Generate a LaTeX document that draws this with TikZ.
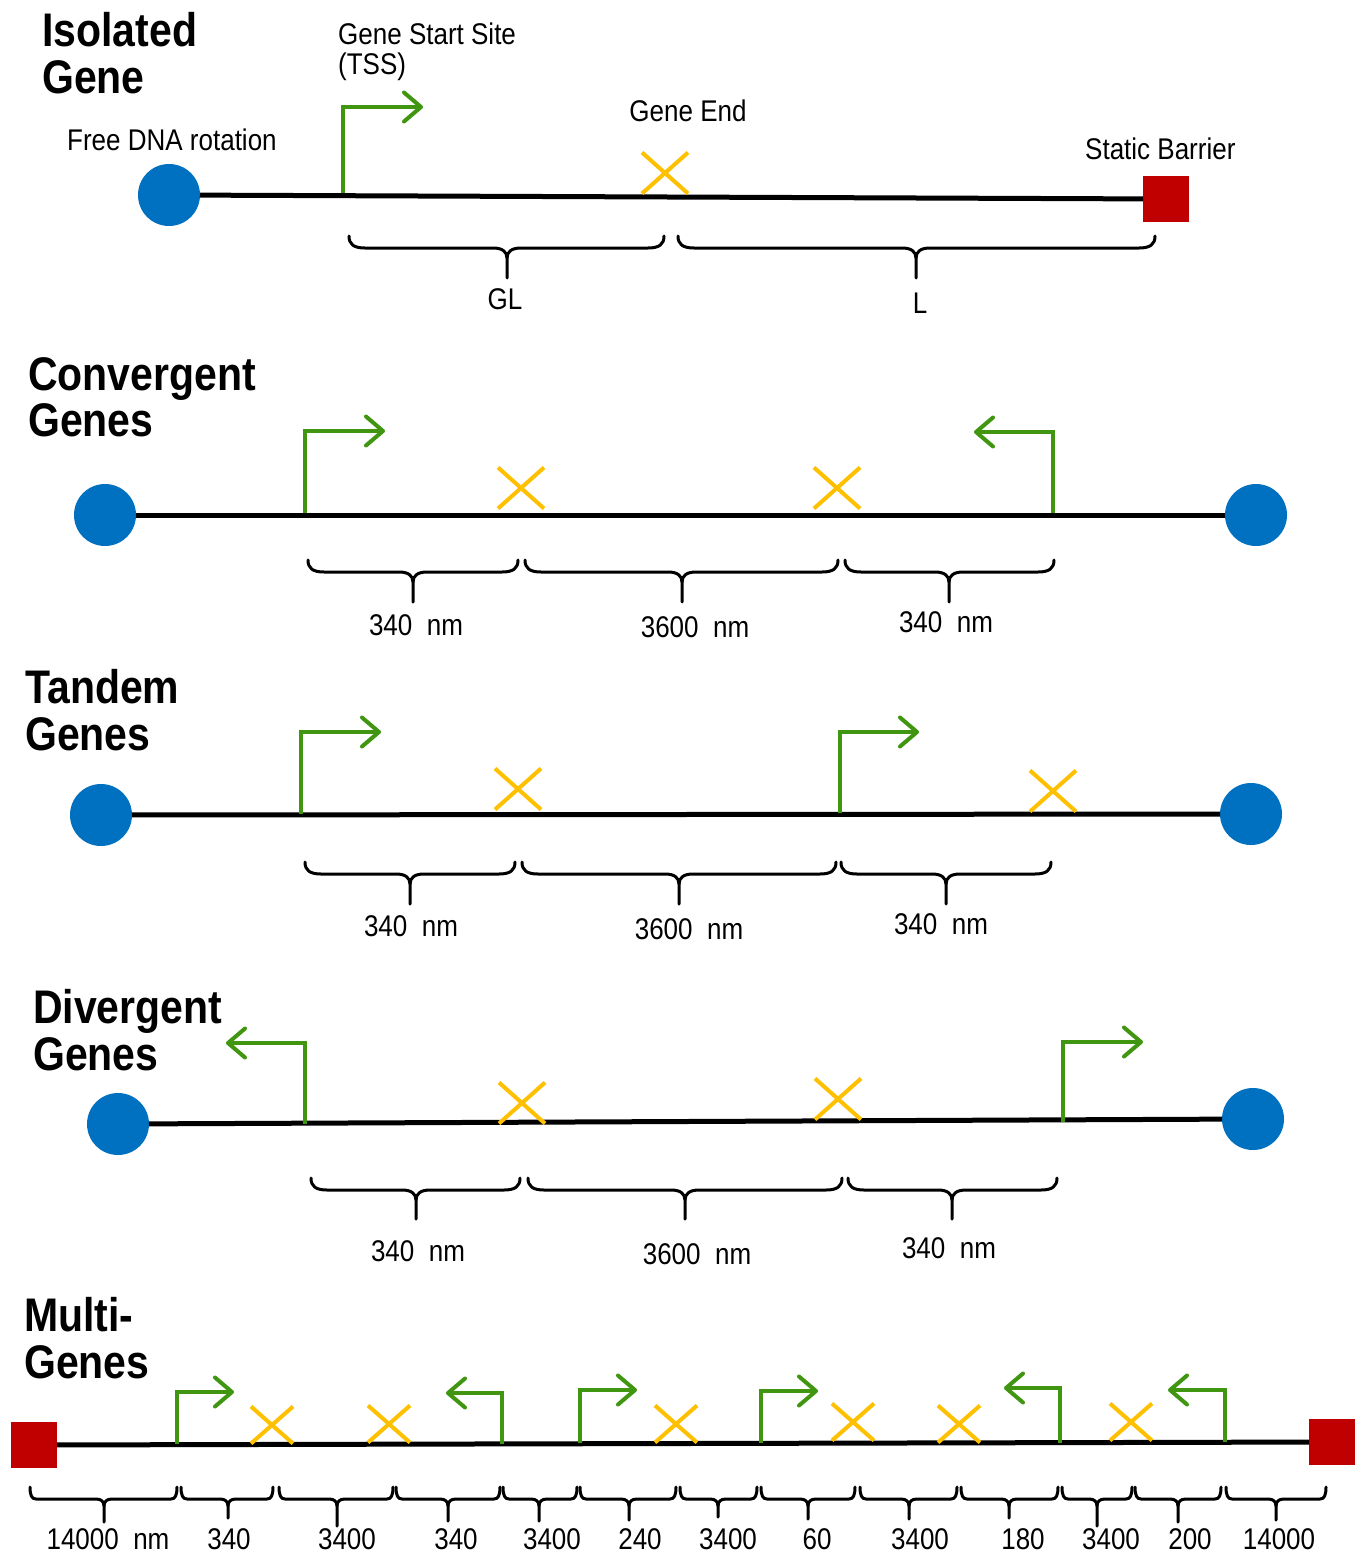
\documentclass[tikz,border=0pt]{standalone}
\usepackage{fontspec}
\setmainfont{Liberation Sans}
\usetikzlibrary{arrows.meta,shapes.misc}
\definecolor{dnablue}{RGB}{0,112,192}
\definecolor{barred}{RGB}{192,0,0}
\definecolor{tssgreen}{RGB}{64,150,16}
\definecolor{endyel}{RGB}{255,192,0}
\newcommand\vs[1]{\scalebox{1}[1.15]{#1}}
\newcommand\vstwo[2]{\scalebox{1}[1.15]{\begin{tabular}{@{}l@{}}#1\\#2\end{tabular}}}
\tikzset{
 bead/.style={circle,fill=dnablue,minimum size=62pt,inner sep=0pt,outer sep=0pt},
 barrier/.style={rectangle,fill=barred,minimum size=46pt,inner sep=0pt,outer sep=0pt},
 dna/.style={line width=5pt,black},
 prom/.style={line width=4pt,tssgreen,line join=miter,-{Straight Barb[length=17pt,width=29pt,round]}},
 gend/.style={cross out,draw=endyel,line width=4pt,minimum width=46pt,minimum height=41pt,inner sep=0pt,outer sep=0pt},
 gends/.style={gend,minimum width=42pt,minimum height=37pt},
 brcline/.style={line width=3pt,black,line cap=round,line join=round},
 ttl/.style={font=\fontsize{41}{40}\selectfont\bfseries,anchor=north west,inner sep=0pt},
 lbl/.style={font=\fontsize{26}{24.5}\selectfont,inner sep=0pt},
}
% brace: #1 x1, #2 x2, #3 xm, #4 ytop, #5 depth, #6 stem end, #7 curl width, #8 cusp half width, #9 cusp depth
\newcommand\mybrace[9]{%
 \draw[brcline] (#1,#4) .. controls (#1,{#4+0.7*#5}) and ({#1+0.3*#7},{#4+#5}) .. ({#1+#7},{#4+#5}) -- ({#3-#8},{#4+#5}) .. controls ({#3-0.35*#8},{#4+#5}) and (#3,{#4+#5+0.35*#9}) .. (#3,{#4+#5+#9}) -- (#3,#6);
 \draw[brcline] (#2,#4) .. controls (#2,{#4+0.7*#5}) and ({#2-0.3*#7},{#4+#5}) .. ({#2-#7},{#4+#5}) -- ({#3+#8},{#4+#5}) .. controls ({#3+0.35*#8},{#4+#5}) and (#3,{#4+#5+0.35*#9}) .. (#3,{#4+#5+#9});
}
\begin{document}
\begin{tikzpicture}[x=1pt,y=-1pt]
\useasboundingbox (0,0) rectangle (1363,1555);
\fill[white] (0,0) rectangle (1363,1555);

% ---------------- Isolated gene
\node[ttl] (t1) at (42,12) {\vstwo{Isolated}{Gene}};
\node[bead] (i0) at (169,195) {};
\node[barrier] (i9) at (1166,199) {};
\draw[dna] (i0) -- (i9);
\coordinate (ip1) at (343,193);
\draw[prom] (ip1) -- ++(0,-86) -- ++(80,0);
\node[gend] (ix1) at (665,173) {};
\node[lbl,anchor=north west] (ilA) at (338,23) {\vstwo{Gene Start Site}{(TSS)}};
\node[lbl,anchor=base] (ilB) at (688,121) {\vs{Gene End}};
\node[lbl,anchor=base west] (ilC) at (67,150) {\vs{Free DNA rotation}};
\node[lbl,anchor=base west] (ilD) at (1085,159) {\vs{Static Barrier}};
\mybrace{349}{664}{507}{236}{12}{278}{16}{14}{10}
\mybrace{678}{1155}{916}{236}{12}{278}{16}{14}{10}
\node[lbl,anchor=base] (ilE) at (505,309) {\vs{GL}};
\node[lbl,anchor=base] (ilF) at (920,313) {\vs{L}};

% ---------------- Convergent
\node[ttl] (t2) at (28,357) {\vstwo{Convergent}{Genes}};
\node[bead] (c0) at (105,515) {};
\node[bead] (c9) at (1256,515) {};
\draw[dna] (c0) -- (c9);
\coordinate (cp1) at (305,513);
\draw[prom] (cp1) -- ++(0,-82) -- ++(80,0);
\coordinate (cp2) at (1053,513);
\draw[prom] (cp2) -- ++(0,-81) -- ++(-79,0);
\node[gend] (cx1) at (521,488) {};
\node[gend] (cx2) at (837,488) {};
\mybrace{308}{518}{413}{560}{12}{602}{16}{14}{10}
\mybrace{525}{838}{682}{560}{12}{602}{16}{14}{10}
\mybrace{845}{1054}{949}{560}{12}{602}{16}{14}{10}
\node[lbl] (cl1) at (416,625) {\vs{340\ \ nm}};
\node[lbl] (cl2) at (695,627) {\vs{3600\ \ nm}};
\node[lbl] (cl3) at (946,622) {\vs{340\ \ nm}};

% ---------------- Tandem
\node[ttl] (t3) at (25,669) {\vstwo{Tandem}{Genes}};
\node[bead] (d0) at (101,815) {};
\node[bead] (d9) at (1251,814) {};
\draw[dna] (d0) -- (d9);
\coordinate (dp1) at (301,814);
\draw[prom] (dp1) -- ++(0,-82) -- ++(80,0);
\coordinate (dp2) at (840,813);
\draw[prom] (dp2) -- ++(0,-81) -- ++(79,0);
\node[gend] (dx1) at (518,789) {};
\node[gend] (dx2) at (1053,791) {};
\mybrace{305}{515}{410}{862}{12}{904}{16}{14}{10}
\mybrace{522}{836}{679}{862}{12}{904}{16}{14}{10}
\mybrace{841}{1051}{946}{862}{12}{904}{16}{14}{10}
\node[lbl] (dl1) at (411,926) {\vs{340\ \ nm}};
\node[lbl] (dl2) at (689,929) {\vs{3600\ \ nm}};
\node[lbl] (dl3) at (941,924) {\vs{340\ \ nm}};

% ---------------- Divergent
\node[ttl] (t4) at (33,989) {\vstwo{Divergent}{Genes}};
\node[bead] (v0) at (118,1124) {};
\node[bead] (v9) at (1253,1119) {};
\draw[dna] (v0) -- (v9);
\coordinate (vp1) at (305,1124);
\draw[prom] (vp1) -- ++(0,-81) -- ++(-79,0);
\coordinate (vp2) at (1063,1122);
\draw[prom] (vp2) -- ++(0,-80) -- ++(80,0);
\node[gend] (vx1) at (522,1103) {};
\node[gend] (vx2) at (838,1099) {};
\mybrace{311}{520}{416}{1178}{12}{1219}{16}{14}{10}
\mybrace{528}{842}{685}{1178}{12}{1219}{16}{14}{10}
\mybrace{848}{1057}{952}{1178}{12}{1219}{16}{14}{10}
\node[lbl] (vl1) at (418,1251) {\vs{340\ \ nm}};
\node[lbl] (vl2) at (697,1254) {\vs{3600\ \ nm}};
\node[lbl] (vl3) at (949,1248) {\vs{340\ \ nm}};

% ---------------- Multi-genes
\node[ttl] (t5) at (24,1297) {\vstwo{Multi-}{Genes}};
\node[barrier] (m0) at (34,1445) {};
\node[barrier] (m9) at (1332,1442) {};
\draw[dna] (m0) -- (m9);
\coordinate (mp1) at (177,1444);
\draw[prom] (mp1) -- ++(0,-52) -- ++(57,0);
\coordinate (mp2) at (502,1444);
\draw[prom] (mp2) -- ++(0,-51) -- ++(-56,0);
\coordinate (mp3) at (580,1443);
\draw[prom] (mp3) -- ++(0,-53) -- ++(57,0);
\coordinate (mp4) at (761,1443);
\draw[prom] (mp4) -- ++(0,-52) -- ++(57,0);
\coordinate (mp5) at (1060,1443);
\draw[prom] (mp5) -- ++(0,-55) -- ++(-56,0);
\coordinate (mp6) at (1225,1442);
\draw[prom] (mp6) -- ++(0,-52) -- ++(-57,0);
\node[gends] (mx1) at (272,1425) {};
\node[gends] (mx2) at (389,1424) {};
\node[gends] (mx3) at (676,1424) {};
\node[gends] (mx4) at (853,1422) {};
\node[gends] (mx5) at (959,1424) {};
\node[gends] (mx6) at (1131,1422) {};
\mybrace{30}{177}{104}{1487}{12}{1522}{6}{8}{7}
\mybrace{181}{273}{228}{1487}{12}{1518}{6}{8}{7}
\mybrace{279}{393}{337}{1487}{12}{1526}{6}{8}{7}
\mybrace{396}{500}{448}{1487}{12}{1521}{6}{8}{7}
\mybrace{503}{577}{539}{1487}{12}{1521}{6}{8}{7}
\mybrace{580}{676}{629}{1487}{12}{1520}{6}{8}{7}
\mybrace{680}{757}{718}{1487}{12}{1517}{6}{8}{7}
\mybrace{761}{855}{808}{1487}{12}{1519}{6}{8}{7}
\mybrace{860}{957}{909}{1487}{12}{1519}{6}{8}{7}
\mybrace{961}{1058}{1009}{1487}{12}{1518}{6}{8}{7}
\mybrace{1062}{1132}{1097}{1487}{12}{1526}{6}{8}{7}
\mybrace{1135}{1221}{1178}{1487}{12}{1522}{6}{8}{7}
\mybrace{1226}{1326}{1276}{1487}{12}{1520}{6}{8}{7}
\node[lbl] (ml1) at (108,1539) {\vs{14000\ \ nm}};
\node[lbl] (ml2) at (229,1539) {\vs{340}};
\node[lbl] (ml3) at (347,1539) {\vs{3400}};
\node[lbl] (ml4) at (456,1539) {\vs{340}};
\node[lbl] (ml5) at (552,1539) {\vs{3400}};
\node[lbl] (ml6) at (640,1539) {\vs{240}};
\node[lbl] (ml7) at (728,1539) {\vs{3400}};
\node[lbl] (ml8) at (817,1539) {\vs{60}};
\node[lbl] (ml9) at (920,1539) {\vs{3400}};
\node[lbl] (ml10) at (1023,1539) {\vs{180}};
\node[lbl] (ml11) at (1111,1539) {\vs{3400}};
\node[lbl] (ml12) at (1190,1539) {\vs{200}};
\node[lbl] (ml13) at (1279,1539) {\vs{14000}};
\end{tikzpicture}
\end{document}
